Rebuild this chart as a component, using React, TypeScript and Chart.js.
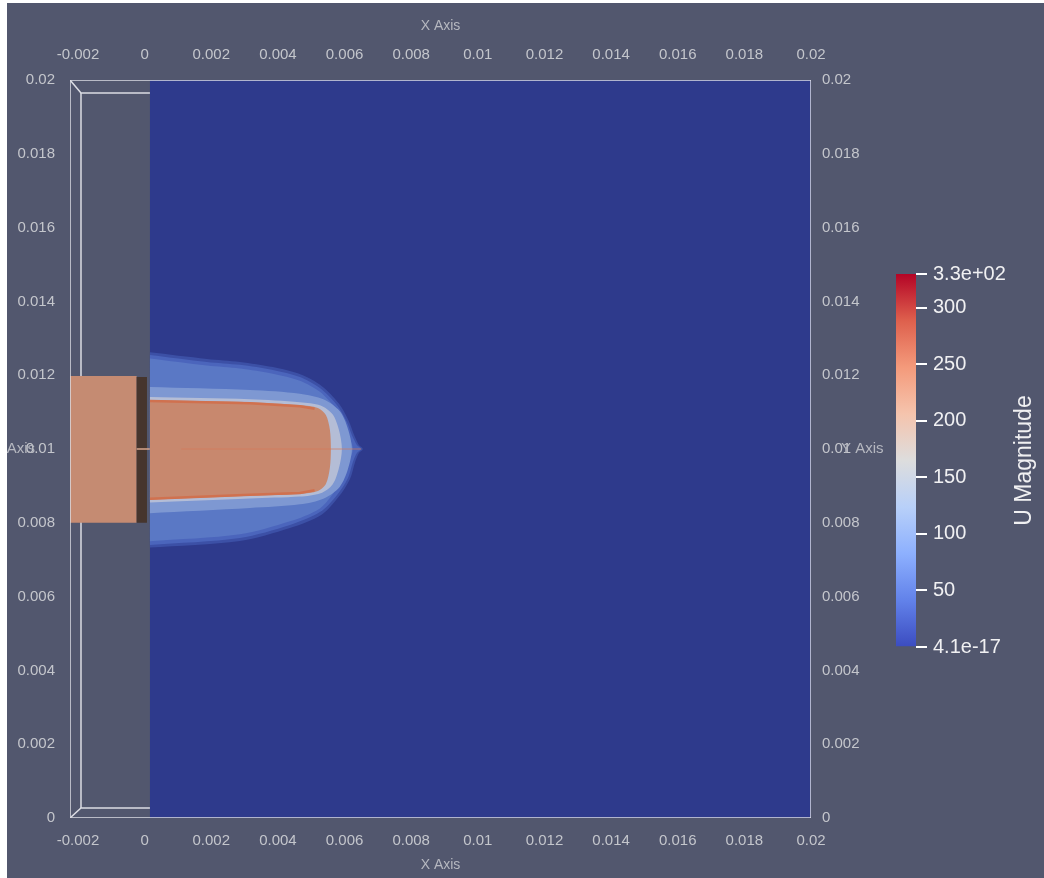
import React, { useEffect, useRef } from 'react';
import { Chart, registerables } from 'chart.js';

Chart.register(...registerables);

// ---------- axis ticks ----------
const xTickValues = [-0.002, 0, 0.002, 0.004, 0.006, 0.008, 0.01, 0.012, 0.014, 0.016, 0.018, 0.02];
const xTickLabels = ['-0.002', '0', '0.002', '0.004', '0.006', '0.008', '0.01', '0.012', '0.014', '0.016', '0.018', '0.02'];
const yTickValues = [0, 0.002, 0.004, 0.006, 0.008, 0.01, 0.012, 0.014, 0.016, 0.018, 0.02];
const yTickLabels = ['0', '0.002', '0.004', '0.006', '0.008', '0.01', '0.012', '0.014', '0.016', '0.018', '0.02'];
const xBounds = [-0.00224, 0.02];
const yBounds = [0, 0.02];

// ---------- colour bar ----------
const colorbarRange = [4.1e-17, 330];
const colorbarTickValues = [0, 50, 100, 150, 200, 250, 300, 330];
const colorbarTickLabels = ['4.1e-17', '50', '100', '150', '200', '250', '300', '3.3e+02'];
const colorbarStops = [0, 0.125, 0.25, 0.375, 0.5, 0.625, 0.75, 0.875, 1];
const colorbarColors = ['#3b4cc0', '#6282ea', '#8db0fe', '#b8d0f9', '#dddddd', '#f5c4ad', '#f49a7b', '#de604d', '#b40426'];

// ---------- geometry outline (bounding box) ----------
const outerBoxX = [-0.00224, -0.00224, 0.02, 0.02, -0.00224];
const outerBoxY = [0, 0.02, 0.02, 0, 0];
const innerTopX = [-0.00224, -0.00191, 0.00016];
const innerTopY = [0.02, 0.01965, 0.01965];
const innerBottomX = [-0.00224, -0.00191, 0.00016];
const innerBottomY = [0, 0.00027, 0.00027];
const innerSideX = [-0.00191, -0.00191];
const innerSideY = [0.00027, 0.01965];

// ---------- slice regions ----------
const domainX = [0.00016, 0.00016, 0.02, 0.02];
const domainY = [0, 0.02, 0.02, 0];
const inletX = [-0.00224, -0.00224, -0.00024, -0.00024];
const inletY = [0.008, 0.01198, 0.01198, 0.008];
const nozzleX = [-0.00024, -0.00024, 0.00007, 0.00007];
const nozzleY = [0.008, 0.01195, 0.01195, 0.008];
const nozzleAxisX = [-0.00024, 0.00016];
const nozzleAxisY = [0.01, 0.01];

// ---------- jet plume contours ----------
const haloSoftX = [0.00016, 0.00187, 0.00286, 0.00385, 0.00469, 0.00531, 0.00583, 0.00613, 0.00628, 0.00643, 0.00655, 0.00643, 0.00631, 0.00616, 0.00583, 0.00531, 0.00436, 0.00286, 0.00016];
const haloSoftY = [0.01262, 0.01244, 0.01236, 0.01222, 0.01202, 0.01171, 0.01123, 0.01075, 0.01039, 0.01011, 0.01, 0.00989, 0.00963, 0.00918, 0.00871, 0.00822, 0.00786, 0.00751, 0.00733];
const haloX = [0.00016, 0.00187, 0.00286, 0.00385, 0.00466, 0.00526, 0.00577, 0.00607, 0.00622, 0.00637, 0.00649, 0.00637, 0.00625, 0.0061, 0.00577, 0.00526, 0.00436, 0.00286, 0.00016];
const haloY = [0.01255, 0.01236, 0.01228, 0.01214, 0.01195, 0.01165, 0.01119, 0.01073, 0.01038, 0.01011, 0.01, 0.00989, 0.00965, 0.00921, 0.00875, 0.00829, 0.00794, 0.00759, 0.0074];
const haloMainX = [0.00016, 0.00187, 0.00286, 0.00385, 0.00466, 0.00526, 0.00571, 0.00598, 0.00613, 0.00625, 0.00613, 0.00598, 0.00571, 0.00526, 0.00436, 0.00286, 0.00016];
const haloMainY = [0.01245, 0.01226, 0.01218, 0.01204, 0.01185, 0.01155, 0.01112, 0.01069, 0.01034, 0.01, 0.00966, 0.00929, 0.00886, 0.00839, 0.00804, 0.00769, 0.0075];
const bandX = [0.00016, 0.00316, 0.00466, 0.00538, 0.00586, 0.0061, 0.00622, 0.0061, 0.00586, 0.00538, 0.00466, 0.00316, 0.00016];
const bandY = [0.01168, 0.0116, 0.0115, 0.01134, 0.01102, 0.01055, 0.01, 0.00945, 0.00898, 0.00866, 0.0085, 0.0084, 0.00826];
const rimX = [0.00016, 0.00316, 0.00466, 0.00528, 0.00564, 0.00583, 0.00592, 0.00583, 0.00564, 0.00528, 0.00466, 0.00316, 0.00016];
const rimY = [0.01141, 0.01135, 0.01127, 0.01118, 0.01094, 0.01052, 0.01, 0.00948, 0.00904, 0.0088, 0.00871, 0.00866, 0.00855];
const coreX = [0.00016, 0.00316, 0.00466, 0.0052, 0.00544, 0.00556, 0.00559, 0.00556, 0.00544, 0.0052, 0.00466, 0.00316, 0.00016];
const coreY = [0.01133, 0.01127, 0.01119, 0.01111, 0.01092, 0.01052, 0.01, 0.00949, 0.00905, 0.00886, 0.00878, 0.00873, 0.00862];
const coreTopEdgeX = [0.00016, 0.00316, 0.00466, 0.0051];
const coreTopEdgeY = [0.0113, 0.01124, 0.01116, 0.01109];
const coreBottomEdgeX = [0.00016, 0.00316, 0.00466, 0.0051];
const coreBottomEdgeY = [0.00865, 0.00876, 0.00881, 0.00888];
const jetAxisX = [0.0011, 0.0065];
const jetAxisY = [0.01, 0.01];

const COLORS = {
  background: '#52576e',
  domain: '#2e3a8c',
  haloSoft: '#3c50a6',
  haloFringe: '#4b65bc',
  haloMain: '#5a78c5',
  band: '#7e98d2',
  rim: '#b4bdd6',
  core: '#c8886e',
  coreEdge: '#d0714f',
  inlet: '#c58b72',
  nozzle: '#46352d',
  box: '#dcdde4',
  label: '#c4c6cc',
  title: '#b6b8c0',
  colorbarText: '#f0f0f2',
};

const FONT = '"Liberation Sans", Arial, sans-serif';

const pts = (xs: number[], ys: number[]) => xs.map((x, i) => ({ x, y: ys[i] }));

const area = (xs: number[], ys: number[], color: string, order: number, tension = 0) => ({
  data: pts(xs, ys),
  showLine: true,
  fill: 'shape',
  backgroundColor: color,
  borderColor: 'rgba(0,0,0,0)',
  borderWidth: 1,
  pointRadius: 0,
  pointHoverRadius: 0,
  tension,
  order,
});

const line = (xs: number[], ys: number[], color: string, width: number, order: number) => ({
  data: pts(xs, ys),
  showLine: true,
  fill: false,
  borderColor: color,
  backgroundColor: color,
  borderWidth: width,
  pointRadius: 0,
  pointHoverRadius: 0,
  tension: 0,
  order,
});

const yAxisTitles = {
  id: 'yAxisTitles',
  afterDraw(chart: any) {
    const { ctx } = chart;
    const y = chart.scales.y;
    const y2 = chart.scales.y2;
    const py = y.getPixelForValue(0.01);
    ctx.save();
    ctx.font = `15px ${FONT}`;
    ctx.fillStyle = COLORS.title;
    ctx.textBaseline = 'middle';
    ctx.textAlign = 'right';
    ctx.fillText('Y Axis', y.right - 35, py);
    ctx.textAlign = 'left';
    ctx.fillText('Y Axis', y2.left + 30, py);
    ctx.restore();
  },
};

const colorbarTitle = {
  id: 'colorbarTitle',
  afterDraw(chart: any) {
    const { ctx } = chart;
    const s = chart.scales.y;
    ctx.save();
    ctx.translate(s.left + 109, (s.top + s.bottom) / 2);
    ctx.rotate(-Math.PI / 2);
    ctx.font = `23px ${FONT}`;
    ctx.fillStyle = COLORS.colorbarText;
    ctx.textAlign = 'center';
    ctx.textBaseline = 'middle';
    ctx.fillText('U Magnitude', 0, 0);
    ctx.restore();
  },
};

function xAxis(position: 'top' | 'bottom', height: number, pad: number, titlePad: any) {
  return {
    type: 'linear',
    position,
    min: xBounds[0],
    max: xBounds[1],
    afterBuildTicks: (s: any) => {
      s.ticks = xTickValues.map((v) => ({ value: v }));
    },
    afterFit: (s: any) => {
      s.height = height;
    },
    ticks: {
      callback: (_v: any, i: number) => xTickLabels[i],
      color: COLORS.label,
      font: { family: FONT, size: 15 },
      padding: pad,
      autoSkip: false,
      maxRotation: 0,
      minRotation: 0,
    },
    grid: { display: false, drawTicks: false },
    border: { display: false },
    title: {
      display: true,
      text: 'X Axis',
      color: COLORS.title,
      font: { family: FONT, size: 14 },
      padding: titlePad,
    },
  };
}

function yAxis(position: 'left' | 'right', width: number, pad: number) {
  return {
    type: 'linear',
    position,
    min: yBounds[0],
    max: yBounds[1],
    afterBuildTicks: (s: any) => {
      s.ticks = yTickValues.map((v) => ({ value: v }));
    },
    afterFit: (s: any) => {
      s.width = width;
    },
    ticks: {
      callback: (_v: any, i: number) => yTickLabels[i],
      color: COLORS.label,
      font: { family: FONT, size: 15 },
      padding: pad,
      autoSkip: false,
    },
    grid: { display: false, drawTicks: false },
    border: { display: false },
  };
}

export default function App() {
  const mainRef = useRef<HTMLCanvasElement>(null);
  const barRef = useRef<HTMLCanvasElement>(null);

  useEffect(() => {
    const main = new Chart(mainRef.current as HTMLCanvasElement, {
      type: 'scatter',
      data: {
        datasets: [
          line(outerBoxX, outerBoxY, COLORS.box, 1.5, 0),
          line(jetAxisX, jetAxisY, 'rgba(214,120,88,0.7)', 1, 1),
          line(coreTopEdgeX, coreTopEdgeY, COLORS.coreEdge, 2.5, 2),
          line(coreBottomEdgeX, coreBottomEdgeY, COLORS.coreEdge, 2.5, 2),
          area(coreX, coreY, COLORS.core, 3, 0.3),
          area(rimX, rimY, COLORS.rim, 4, 0.3),
          area(bandX, bandY, COLORS.band, 5, 0.3),
          area(haloMainX, haloMainY, COLORS.haloMain, 6, 0.3),
          area(haloX, haloY, COLORS.haloFringe, 7, 0.3),
          area(haloSoftX, haloSoftY, COLORS.haloSoft, 8, 0.3),
          area(domainX, domainY, COLORS.domain, 9),
          line(nozzleAxisX, nozzleAxisY, '#d9a68c', 1.5, 10),
          area(nozzleX, nozzleY, COLORS.nozzle, 11),
          area(inletX, inletY, COLORS.inlet, 12),
          line(innerTopX, innerTopY, COLORS.box, 1.5, 13),
          line(innerBottomX, innerBottomY, COLORS.box, 1.5, 13),
          line(innerSideX, innerSideY, COLORS.box, 1.5, 13),
        ] as any,
      },
      options: {
        responsive: false,
        animation: false,
        events: [],
        layout: { padding: 0 },
        plugins: { legend: { display: false }, tooltip: { enabled: false } },
        scales: {
          x: xAxis('bottom', 60, 14, { top: 0, bottom: 4 }),
          x2: xAxis('top', 77, 16, { top: 15, bottom: 0 }),
          y: yAxis('left', 63, 15),
          y2: yAxis('right', 233, 11),
        } as any,
      },
      plugins: [yAxisTitles],
    });

    const bar = new Chart(barRef.current as HTMLCanvasElement, {
      type: 'bar',
      data: {
        labels: ['U Magnitude'],
        datasets: [
          {
            data: [colorbarRange] as any,
            borderWidth: 0,
            barPercentage: 1,
            categoryPercentage: 1,
            backgroundColor: (ctx: any) => {
              const a = ctx.chart.chartArea;
              if (!a) return colorbarColors[0];
              const g = ctx.chart.ctx.createLinearGradient(0, a.bottom, 0, a.top);
              colorbarStops.forEach((s, i) => g.addColorStop(s, colorbarColors[i]));
              return g;
            },
          },
        ],
      },
      options: {
        responsive: false,
        animation: false,
        events: [],
        layout: { padding: { left: 16, top: 34, bottom: 33, right: 0 } },
        plugins: { legend: { display: false }, tooltip: { enabled: false } },
        scales: {
          x: { display: false },
          y: {
            type: 'linear',
            position: 'right',
            min: 0,
            max: 330,
            afterBuildTicks: (s: any) => {
              s.ticks = colorbarTickValues.map((v) => ({ value: v }));
            },
            afterFit: (s: any) => {
              s.width = 128;
            },
            ticks: {
              callback: (_v: any, i: number) => colorbarTickLabels[i],
              color: COLORS.colorbarText,
              font: { family: FONT, size: 20 },
              padding: 6,
              autoSkip: false,
            },
            grid: {
              display: true,
              drawOnChartArea: false,
              drawTicks: true,
              tickLength: 11,
              color: '#ffffff',
              lineWidth: 2,
            },
            border: { display: false },
          },
        } as any,
      },
      plugins: [colorbarTitle],
    });

    return () => {
      main.destroy();
      bar.destroy();
    };
  }, []);

  return (
    <div
      style={{
        position: 'absolute',
        left: 7,
        top: 3,
        width: 1037,
        height: 875,
        background: COLORS.background,
        overflow: 'hidden',
      }}
    >
      <canvas ref={mainRef} width={1037} height={875} style={{ position: 'absolute', left: 0, top: 0 }} />
      <canvas ref={barRef} width={164} height={440} style={{ position: 'absolute', left: 873, top: 237 }} />
    </div>
  );
}
